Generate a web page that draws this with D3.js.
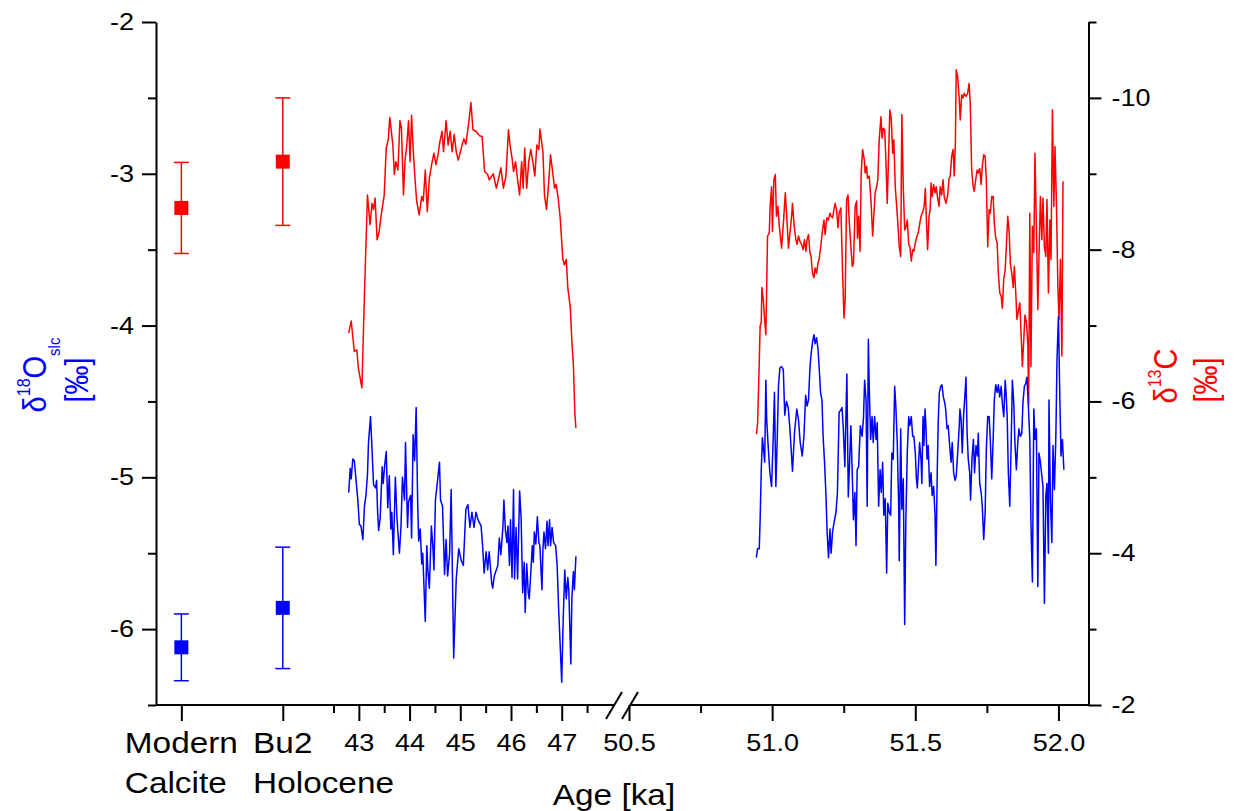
<!DOCTYPE html>
<html lang="en">
<head>
<meta charset="UTF-8">
<title>Bu2 stable isotopes vs age</title>
<script src="https://d3js.org/d3.v7.min.js"></script>
<style>
  body { margin: 0; background: #fff; }
  svg text { font-family: "Liberation Sans", Arial, sans-serif; }
</style>
</head>
<body>
<script>
// ---- data ----
const categories = ["Modern Calcite", "Bu2 Holocene"];
const catD18O = [-6.12, -5.86];
const catD18OErr = [0.22, 0.40];
const catD13C = [-8.55, -9.16];
const catD13CErr = [0.60, 0.84];

// 43-47 ka section
const seg1AgeC = [42.80,42.85,42.89,42.91,42.96,42.99,43.06,43.11,43.13,43.17,
  43.22,43.26,43.29,43.32,43.36,43.40,43.45,43.50,43.54,43.58,
  43.61,43.67,43.70,43.73,43.77,43.81,43.84,43.88,43.91,43.94,
  43.98,44.01,44.04,44.07,44.11,44.14,44.19,44.24,44.27,44.31,
  44.35,44.39,44.44,44.48,44.52,44.56,44.60,44.64,44.67,44.72,
  44.76,44.80,44.84,44.88,44.92,44.96,45.02,45.07,45.11,45.17,
  45.21,45.25,45.31,45.38,45.43,45.48,45.54,45.57,45.65,45.71,
  45.75,45.80,45.85,45.90,45.95,45.98,46.02,46.05,46.09,46.13,
  46.17,46.21,46.24,46.27,46.31,46.35,46.39,46.43,46.47,46.51,
  46.55,46.57,46.63,46.66,46.70,46.74,46.78,46.82,46.86,46.89,
  46.93,46.97,47.02,47.05,47.09,47.12,47.17,47.20,47.23,47.26,47.28];
const seg1D13C = [-6.90,-7.06,-6.79,-6.66,-6.68,-6.44,-6.18,-7.41,-7.85,-8.72,
  -8.33,-8.61,-8.53,-8.68,-8.13,-8.24,-8.50,-8.72,-9.34,-9.45,
  -9.74,-9.38,-8.99,-9.16,-9.05,-9.70,-9.60,-8.72,-9.18,-9.34,
  -9.70,-9.16,-9.77,-9.34,-8.90,-8.64,-8.46,-8.70,-8.64,-9.05,
  -8.50,-8.94,-9.14,-9.27,-9.12,-9.25,-9.43,-9.56,-9.29,-9.70,
  -9.38,-9.56,-9.29,-9.52,-9.29,-9.18,-9.34,-9.46,-9.39,-9.69,
  -9.94,-9.58,-9.56,-9.50,-9.49,-9.03,-8.99,-8.92,-9.00,-8.81,
  -8.92,-9.08,-8.81,-8.97,-9.58,-9.38,-9.21,-9.03,-9.16,-8.92,
  -8.72,-9.16,-8.81,-9.34,-8.81,-9.16,-9.32,-9.16,-8.97,-9.38,
  -9.32,-9.59,-9.29,-8.72,-8.53,-8.86,-9.25,-9.03,-8.81,-8.86,
  -8.68,-8.42,-7.89,-7.80,-7.87,-7.50,-7.23,-6.79,-6.49,-5.83,-5.65];

const seg1AgeO = [42.80,42.83,42.85,42.88,42.91,42.94,42.98,43.01,43.04,43.08,
  43.11,43.14,43.17,43.19,43.23,43.26,43.29,43.33,43.35,43.37,
  43.39,43.42,43.46,43.48,43.51,43.54,43.57,43.60,43.63,43.65,
  43.68,43.72,43.75,43.77,43.80,43.83,43.86,43.90,43.92,43.96,
  43.98,44.02,44.04,44.07,44.10,44.13,44.16,44.18,44.21,44.24,
  44.26,44.31,44.34,44.36,44.39,44.43,44.46,44.48,44.51,44.54,
  44.59,44.61,44.65,44.69,44.72,44.75,44.79,44.82,44.87,44.92,
  44.97,45.02,45.06,45.11,45.15,45.19,45.23,45.27,45.31,45.35,
  45.41,45.44,45.47,45.51,45.54,45.57,45.62,45.64,45.67,45.71,
  45.74,45.77,45.80,45.84,45.86,45.89,45.92,45.94,45.97,45.99,
  46.02,46.05,46.07,46.10,46.13,46.17,46.20,46.23,46.26,46.28,
  46.31,46.34,46.36,46.39,46.42,46.44,46.46,46.49,46.52,46.55,
  46.57,46.61,46.63,46.65,46.68,46.71,46.73,46.76,46.78,46.81,
  46.84,46.88,46.91,46.94,46.97,47.00,47.03,47.06,47.09,47.12,
  47.14,47.18,47.20,47.23,47.25,47.28];
const seg1D18O = [-5.10,-4.94,-5.01,-4.88,-4.89,-5.00,-5.15,-5.31,-5.32,-5.41,
  -5.19,-5.12,-4.98,-4.77,-4.60,-4.82,-5.05,-5.07,-5.02,-5.23,
  -5.35,-5.27,-4.93,-5.04,-4.92,-4.83,-5.20,-4.99,-5.34,-5.23,
  -5.51,-5.00,-5.26,-5.36,-5.50,-5.33,-5.00,-5.15,-4.77,-5.33,
  -5.16,-5.12,-5.40,-4.72,-4.89,-4.54,-5.17,-5.42,-5.34,-5.57,
  -5.50,-5.95,-5.45,-5.61,-5.73,-5.32,-5.46,-5.61,-5.15,-5.06,
  -4.90,-5.15,-5.19,-5.64,-5.41,-5.65,-5.50,-5.08,-6.19,-5.67,
  -5.47,-5.55,-5.58,-5.21,-5.18,-5.33,-5.23,-5.33,-5.23,-5.28,
  -5.32,-5.45,-5.63,-5.49,-5.61,-5.49,-5.70,-5.73,-5.65,-5.61,
  -5.58,-5.40,-5.51,-5.33,-5.15,-5.35,-5.43,-5.32,-5.58,-5.28,
  -5.66,-5.08,-5.67,-5.33,-5.67,-5.09,-5.27,-5.76,-5.56,-5.89,
  -5.57,-5.76,-5.80,-5.63,-5.45,-5.56,-5.36,-5.44,-5.26,-5.43,
  -5.45,-5.74,-5.47,-5.36,-5.47,-5.29,-5.45,-5.28,-5.45,-5.33,
  -5.43,-5.45,-5.58,-5.87,-6.11,-6.35,-5.93,-5.61,-5.80,-5.66,
  -5.74,-6.23,-5.80,-5.62,-5.74,-5.52];

// 51-52 ka section
const seg2AgeC = [50.945,50.949,50.955,50.958,50.962,50.964,50.969,50.973,50.978,50.984,
  50.990,50.993,50.998,51.001,51.006,51.011,51.015,51.020,51.025,51.033,
  51.040,51.046,51.051,51.057,51.062,51.068,51.071,51.077,51.083,51.087,
  51.092,51.097,51.103,51.108,51.113,51.118,51.122,51.127,51.132,51.136,
  51.141,51.146,51.150,51.155,51.160,51.164,51.169,51.176,51.181,51.185,
  51.191,51.196,51.202,51.206,51.211,51.216,51.220,51.225,51.230,51.234,
  51.240,51.246,51.251,51.255,51.260,51.265,51.269,51.275,51.280,51.284,
  51.290,51.295,51.298,51.302,51.307,51.311,51.316,51.322,51.325,51.330,
  51.333,51.339,51.345,51.351,51.357,51.360,51.365,51.369,51.374,51.380,
  51.384,51.388,51.393,51.397,51.402,51.407,51.411,51.416,51.421,51.425,
  51.430,51.435,51.439,51.444,51.449,51.453,51.458,51.463,51.467,51.472,
  51.477,51.481,51.486,51.491,51.495,
  51.500,51.506,51.510,51.515,51.520,51.526,51.531,51.535,51.538,51.543,
  51.548,51.552,51.555,51.559,51.564,51.569,51.573,51.578,51.583,51.587,
  51.592,51.597,51.601,51.607,51.613,51.618,51.622,51.627,51.632,51.636,
  51.640,51.643,51.648,51.653,51.657,51.662,51.667,51.671,51.677,51.683,
  51.688,51.692,51.697,51.702,51.706,51.711,51.716,51.720,51.725,51.730,
  51.734,51.739,51.744,51.748,51.753,51.758,51.762,51.767,51.772,51.776,
  51.781,51.786,51.790,51.795,51.800,51.804,51.809,51.814,51.818,51.823,
  51.828,51.832,51.837,51.842,51.846,51.851,51.855,51.860,51.865,51.869,
  51.874,51.879,51.883,51.888,51.893,51.896,51.900,51.904,51.909,51.914,
  51.918,51.923,51.928,51.932,51.937,51.942,51.946,51.951,51.956,51.960,
  51.965,51.970,51.974,51.979,51.984,51.988,51.993,51.998,52.002,52.007,
  52.012,52.016];
const seg2D13C = [-5.57,-5.70,-6.51,-6.99,-7.04,-7.50,-7.34,-7.12,-6.88,-8.18,
  -8.22,-8.57,-8.83,-8.24,-8.92,-8.99,-8.44,-8.57,-8.31,-8.02,
  -8.39,-8.75,-8.44,-8.02,-8.22,-8.44,-8.61,-8.31,-8.13,-8.07,
  -8.18,-8.11,-8.07,-8.00,-8.13,-7.98,-8.13,-8.20,-7.96,-7.91,
  -7.69,-7.63,-7.76,-7.69,-7.82,-7.87,-8.02,-8.26,-8.39,-8.20,
  -8.42,-8.39,-8.48,-8.44,-8.42,-8.53,-8.61,-8.53,-8.29,-8.48,
  -8.55,-7.69,-7.10,-7.34,-8.66,-8.72,-8.39,-8.04,-7.78,-7.82,
  -8.57,-8.64,-8.15,-8.44,-7.98,-9.01,-9.32,-9.18,-9.01,-9.10,
  -8.94,-8.97,-8.66,-8.18,-8.57,-8.75,-8.83,-8.92,-9.45,-9.75,
  -9.47,-9.60,-9.58,-9.21,-8.61,-9.27,-9.84,-9.73,-9.27,-9.45,
  -8.83,-8.57,-8.35,-8.04,-7.91,-9.78,-8.83,-8.26,-8.29,-8.39,
  -8.07,-8.04,-7.85,-8.00,-7.98,
  -8.09,-8.18,-8.22,-8.33,-8.44,-8.50,-8.57,-8.81,-8.48,-8.00,
  -8.44,-8.53,-8.88,-8.70,-8.86,-8.75,-8.83,-8.68,-8.57,-8.83,
  -8.72,-8.92,-8.70,-8.61,-8.72,-8.94,-8.97,-9.23,-9.32,-8.97,
  -9.40,-10.37,-10.28,-10.02,-9.71,-10.04,-10.00,-10.06,-10.02,-10.06,
  -10.19,-9.93,-9.05,-8.83,-8.77,-8.92,-9.05,-9.01,-9.07,-8.86,
  -9.10,-9.25,-9.23,-8.92,-8.04,-8.53,-8.48,-8.70,-8.70,-8.35,
  -8.15,-8.09,-7.69,-7.43,-7.39,-7.23,-7.61,-7.74,-8.04,-8.44,
  -8.22,-7.82,-7.69,-7.50,-7.78,-7.43,-7.08,-7.19,-7.30,-6.95,
  -6.46,-6.82,-7.14,-7.04,-6.77,-5.96,-8.48,-6.46,-8.31,-7.96,
  -9.27,-8.31,-7.21,-7.91,-8.70,-8.13,-8.68,-8.04,-7.91,-8.66,
  -7.43,-8.39,-7.87,-9.84,-8.57,-9.36,-8.61,-7.52,-7.08,-7.87,
  -6.60,-8.90];

const seg2AgeO = [50.945,50.949,50.955,50.958,50.962,50.966,50.971,50.974,50.978,50.981,
  50.986,50.992,50.998,51.004,51.008,51.013,51.018,51.022,51.027,51.033,
  51.039,51.044,51.050,51.056,51.062,51.071,51.078,51.086,51.092,51.098,
  51.105,51.111,51.117,51.122,51.127,51.132,51.136,51.141,51.146,51.150,
  51.155,51.160,51.164,51.169,51.174,51.178,51.183,51.188,51.192,51.197,
  51.202,51.206,51.211,51.217,51.223,51.228,51.234,51.239,51.244,51.248,
  51.254,51.258,51.261,51.266,51.270,51.275,51.280,51.284,51.289,51.293,
  51.297,51.302,51.308,51.314,51.319,51.323,51.328,51.332,51.336,51.339,
  51.344,51.349,51.353,51.358,51.363,51.367,51.372,51.377,51.381,51.386,
  51.390,51.395,51.400,51.404,51.409,51.414,51.418,51.423,51.428,51.432,
  51.437,51.442,51.444,51.449,51.453,51.458,51.463,51.467,51.472,51.477,
  51.481,51.486,51.491,51.495,
  51.500,51.504,51.507,51.510,51.515,51.520,51.523,51.527,51.530,51.534,
  51.537,51.541,51.545,51.550,51.555,51.559,51.564,51.569,51.572,51.577,
  51.580,51.584,51.589,51.593,51.598,51.603,51.606,51.611,51.615,51.620,
  51.625,51.629,51.634,51.639,51.643,51.648,51.653,51.656,51.660,51.664,
  51.669,51.674,51.677,51.681,51.685,51.690,51.693,51.698,51.703,51.707,
  51.712,51.717,51.720,51.725,51.730,51.734,51.739,51.744,51.748,51.753,
  51.758,51.762,51.767,51.772,51.776,51.781,51.786,51.790,51.795,51.800,
  51.804,51.809,51.814,51.817,51.821,51.825,51.830,51.835,51.839,51.844,
  51.848,51.853,51.858,51.862,51.867,51.872,51.876,51.881,51.886,51.890,
  51.895,51.900,51.904,51.909,51.914,51.918,51.923,51.928,51.932,51.937,
  51.942,51.946,51.951,51.956,51.960,51.965,51.967,51.972,51.977,51.981,
  51.986,51.991,51.995,52.000,52.005,52.009,52.014,52.019];
const seg2D18O = [-5.53,-5.47,-5.47,-5.28,-4.95,-4.74,-4.84,-4.90,-4.36,-4.62,
  -4.79,-4.97,-5.06,-4.73,-4.44,-5.06,-4.73,-4.40,-4.28,-4.27,
  -4.29,-4.59,-4.50,-4.54,-4.68,-4.96,-4.71,-4.55,-4.62,-4.77,
  -4.86,-4.73,-4.46,-4.53,-4.49,-4.28,-4.19,-4.11,-4.06,-4.12,
  -4.08,-4.15,-4.27,-4.44,-4.49,-4.73,-4.90,-5.12,-5.36,-5.53,
  -5.34,-5.50,-5.36,-5.29,-5.23,-5.10,-4.57,-4.56,-4.54,-4.66,
  -4.93,-4.57,-4.32,-5.13,-4.93,-4.66,-4.99,-5.28,-5.10,-5.45,
  -4.95,-4.93,-4.66,-4.73,-4.61,-4.36,-4.49,-5.19,-4.09,-4.40,
  -4.75,-4.60,-4.77,-4.60,-4.75,-4.64,-5.19,-4.95,-5.10,-4.90,
  -5.25,-5.14,-5.63,-5.17,-5.23,-5.25,-4.84,-4.88,-4.40,-4.53,
  -4.77,-5.19,-5.55,-4.68,-5.21,-5.01,-5.97,-5.28,-4.84,-4.60,
  -4.66,-4.60,-4.73,-4.73,
  -4.84,-5.01,-5.07,-4.97,-4.77,-4.88,-5.04,-4.60,-4.79,-4.55,
  -4.66,-4.88,-4.79,-5.06,-4.97,-5.12,-5.06,-5.25,-5.58,-4.93,
  -4.64,-4.44,-4.40,-4.39,-4.47,-4.51,-4.55,-4.68,-4.66,-4.79,
  -4.90,-4.77,-4.97,-5.02,-4.99,-4.84,-4.68,-4.55,-4.62,-4.84,
  -4.58,-4.44,-4.34,-4.71,-4.88,-4.97,-5.15,-4.88,-4.75,-4.97,
  -4.79,-4.86,-4.71,-5.04,-5.10,-5.19,-5.41,-5.23,-4.82,-4.60,
  -4.60,-4.75,-5.01,-4.75,-4.49,-4.39,-4.44,-4.39,-4.47,-4.40,
  -4.51,-4.60,-4.36,-4.44,-4.60,-4.97,-5.19,-4.77,-4.36,-4.51,
  -4.77,-4.95,-4.77,-4.68,-4.73,-4.71,-4.51,-4.40,-4.38,-4.34,
  -4.53,-4.75,-5.30,-5.69,-4.55,-4.75,-4.68,-5.72,-4.84,-4.90,
  -4.99,-5.06,-5.83,-5.12,-5.04,-5.50,-4.49,-5.15,-5.43,-4.79,
  -5.08,-4.73,-4.22,-3.94,-4.49,-4.86,-4.75,-4.95];

// tick values
const d18oMajor = [-2, -3, -4, -5, -6];
const d18oMinor = [-2.5, -3.5, -4.5, -5.5, -6.5];
const d13cMajor = [-2, -4, -6, -8, -10];
const d13cMinor = [-3, -5, -7, -9, -11];
const age1Major = [43, 44, 45, 46, 47];
const age1Minor = [42.5, 43.5, 44.5, 45.5, 46.5, 47.5];
const age2Major = [50.5, 51.0, 51.5, 52.0];
const age2Minor = [50.75, 51.25, 51.75];

// ---- layout ----
const w = 1234, h = 811;
const red = '#ff0000', blue = '#0000ff';
const stretch = 1.15;   // lettering in the figure is a bit wider than normal
const tickFont = 23.5, labelFont = 29;

const yLeft = d3.scaleLinear().domain([-6.5, -2]).range([705, 22]);
const yRight = d3.scaleLinear().domain([-2, -11]).range([705, 22]);
const x1 = d3.scaleLinear().domain([39, 48.1]).range([156, 617.5]);
const x2 = d3.scaleLinear().domain([50.5, 52.105]).range([629, 1088.5]);
const xCat = d3.scalePoint().domain(categories).range([x1(39.5), x1(41.5)]);

const svg = d3.select('body').append('svg')
  .attr('width', w)
  .attr('height', h)
  .style('display', 'block');

// widen axis text horizontally
function widen(sel) {
  sel.each(function () {
    const t = d3.select(this);
    const x = +t.attr('x') || 0;
    t.attr('x', x / stretch).attr('transform', `scale(${stretch},1)`);
  });
}

function styleAxis(g, size) {
  g.attr('font-family', '"Liberation Sans", Arial, sans-serif')
    .attr('font-size', size);
  g.selectAll('line').attr('stroke', '#000').attr('stroke-width', 2);
  g.selectAll('path.domain').attr('stroke', '#000').attr('stroke-width', 2);
  g.selectAll('text').attr('fill', '#000');
}

const xLeft = x1.range()[0];
const xRightAx = x2.range()[1];

// left axis
svg.append('g')
  .attr('transform', `translate(${xLeft},0)`)
  .call(d3.axisLeft(yLeft).tickValues(d18oMajor).tickSize(14).tickSizeOuter(0)
    .tickPadding(8).tickFormat(d => String(d)))
  .call(g => styleAxis(g, tickFont))
  .call(g => widen(g.selectAll('text')));
svg.append('g')
  .attr('transform', `translate(${xLeft},0)`)
  .call(d3.axisLeft(yLeft).tickValues(d18oMinor).tickSize(8).tickFormat(''))
  .call(g => g.select('.domain').remove())
  .call(g => styleAxis(g, tickFont));

// right axis
svg.append('g')
  .attr('transform', `translate(${xRightAx},0)`)
  .call(d3.axisRight(yRight).tickValues(d13cMajor).tickSize(13).tickSizeOuter(0)
    .tickPadding(10).tickFormat(d => String(d)))
  .call(g => styleAxis(g, tickFont))
  .call(g => widen(g.selectAll('text')));
svg.append('g')
  .attr('transform', `translate(${xRightAx},0)`)
  .call(d3.axisRight(yRight).tickValues(d13cMinor).tickSize(8).tickFormat(''))
  .call(g => g.select('.domain').remove())
  .call(g => styleAxis(g, tickFont));

// bottom axis, broken
const yBase = yLeft.range()[0];
const breakL = x1.range()[1] - 3.5;
const breakR = x2.range()[0] + 1;

svg.append('line')
  .attr('x1', xLeft).attr('x2', breakL)
  .attr('y1', yBase).attr('y2', yBase)
  .attr('stroke', '#000').attr('stroke-width', 2);
svg.append('line')
  .attr('x1', breakR).attr('x2', xRightAx)
  .attr('y1', yBase).attr('y2', yBase)
  .attr('stroke', '#000').attr('stroke-width', 2);

[breakL, breakR].forEach(bx => {
  svg.append('line')
    .attr('x1', bx - 8).attr('y1', yBase + 14)
    .attr('x2', bx + 8).attr('y2', yBase - 13)
    .attr('stroke', '#000').attr('stroke-width', 2);
});

function bottomAxis(scale, values, size, fmt) {
  const g = svg.append('g')
    .attr('transform', `translate(0,${yBase})`)
    .call(d3.axisBottom(scale).tickValues(values).tickSize(size).tickPadding(13)
      .tickFormat(fmt))
    .call(g => g.select('.domain').remove())
    .call(g => styleAxis(g, tickFont));
  widen(g.selectAll('text'));
  return g;
}
bottomAxis(xCat, categories, 16, () => '');
bottomAxis(x1, age1Major, 16, d => String(d));
bottomAxis(x1, age1Minor, 8, () => '');
bottomAxis(x2, age2Major, 16, d3.format('.1f'));
bottomAxis(x2, age2Minor, 8, () => '');

// category labels: first word centred on tick, second line left aligned with it
const catLabels = svg.append('g').attr('font-size', labelFont);
categories.forEach(c => {
  const [first, second] = c.split(' ');
  const t1 = catLabels.append('text')
    .attr('y', yBase + 48)
    .attr('text-anchor', 'middle')
    .attr('transform', `scale(${stretch},1)`)
    .attr('x', xCat(c) / stretch)
    .text(first);
  const len = t1.node().getComputedTextLength();
  const startX = xCat(c) / stretch - len / 2;
  catLabels.append('text')
    .attr('y', yBase + 88)
    .attr('transform', `scale(${stretch},1)`)
    .attr('x', startX)
    .text(second);
});

// x title
svg.append('text')
  .attr('font-size', labelFont)
  .attr('text-anchor', 'middle')
  .attr('transform', `scale(${stretch},1)`)
  .attr('x', 614 / stretch)
  .attr('y', yBase + 100)
  .text('Age [ka]');

// y titles (rotated)
function yTitle(x, y, color, parts) {
  const t = svg.append('text')
    .attr('transform', `translate(${x},${y}) rotate(-90) scale(1,${stretch})`)
    .attr('text-anchor', 'middle')
    .attr('fill', color)
    .attr('font-size', labelFont);
  parts.forEach(p => {
    t.append('tspan')
      .attr('font-size', p.size || labelFont)
      .attr('dy', p.dy || 0)
      .text(p.text);
  });
}
yTitle(46, 375, blue, [
  { text: 'δ' },
  { text: '18', size: 16, dy: -14 },
  { text: 'O', dy: 14 },
  { text: 'slc', size: 15, dy: 12 }
]);
yTitle(88, 380, blue, [{ text: '[‰]' }]);
yTitle(1177, 376, red, [
  { text: 'δ' },
  { text: '13', size: 16, dy: -14 },
  { text: 'C', dy: 14 }
]);
yTitle(1217, 380, red, [{ text: '[‰]' }]);

// ---- data lines ----
function drawLine(xs, ages, vals, yScale, color) {
  const line = d3.line()
    .x(d => xs(d[0]))
    .y(d => yScale(d[1]));
  svg.append('path')
    .datum(d3.zip(ages, vals))
    .attr('fill', 'none')
    .attr('stroke', color)
    .attr('stroke-width', 1.5)
    .attr('stroke-linejoin', 'round')
    .attr('d', line);
}
drawLine(x1, seg1AgeC, seg1D13C, yRight, red);
drawLine(x2, seg2AgeC, seg2D13C, yRight, red);
drawLine(x1, seg1AgeO, seg1D18O, yLeft, blue);
drawLine(x2, seg2AgeO, seg2D18O, yLeft, blue);

// ---- error bars with square markers ----
function errorBars(vals, errs, yScale, color) {
  const g = svg.append('g').attr('stroke', color).attr('stroke-width', 1.5);
  categories.forEach((c, i) => {
    const cx = xCat(c);
    const yA = yScale(vals[i] + errs[i]);
    const yB = yScale(vals[i] - errs[i]);
    g.append('line').attr('x1', cx).attr('x2', cx).attr('y1', yA).attr('y2', yB);
    g.append('line').attr('x1', cx - 7.5).attr('x2', cx + 7.5).attr('y1', yA).attr('y2', yA);
    g.append('line').attr('x1', cx - 7.5).attr('x2', cx + 7.5).attr('y1', yB).attr('y2', yB);
    g.append('rect')
      .attr('x', cx - 7).attr('y', yScale(vals[i]) - 7)
      .attr('width', 14).attr('height', 14)
      .attr('fill', color).attr('stroke', 'none');
  });
}
errorBars(catD13C, catD13CErr, yRight, red);
errorBars(catD18O, catD18OErr, yLeft, blue);
</script>
</body>
</html>
